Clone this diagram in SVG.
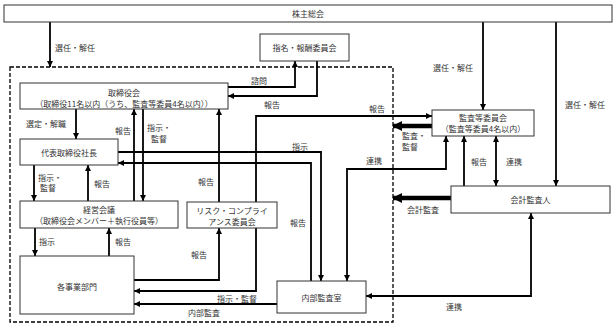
<svg xmlns="http://www.w3.org/2000/svg" width="615" height="329" viewBox="0 0 615 329">
<defs>
<style>
.box{fill:#fff;stroke:#333;stroke-width:1}
.t{font-family:"Noto Sans CJK JP","Noto Sans",sans-serif;font-size:8px;fill:#333;dominant-baseline:central}
.c{text-anchor:middle}
.ln{fill:none;stroke:#000;stroke-width:1.8}
.a{marker-end:url(#ah)}
.b{marker-start:url(#ahs);marker-end:url(#ah)}
.thick{fill:none;stroke:#000;stroke-width:4.5;marker-end:url(#th)}
.dash{fill:none;stroke:#000;stroke-width:1.3;stroke-dasharray:4 2}
</style>
<marker id="ah" markerUnits="userSpaceOnUse" markerWidth="6" markerHeight="6" refX="6" refY="3" orient="auto"><path d="M0,0 L6,3 L0,6 z" fill="#000"/></marker>
<marker id="ahs" markerUnits="userSpaceOnUse" markerWidth="6" markerHeight="6" refX="0" refY="3" orient="auto"><path d="M6,0 L0,3 L6,6 z" fill="#000"/></marker>
<marker id="th" markerUnits="userSpaceOnUse" markerWidth="10" markerHeight="10" refX="9" refY="5" orient="auto"><path d="M0,0 L10,5 L0,10 z" fill="#000"/></marker>
</defs>
<rect width="615" height="329" fill="#fff"/>
<rect class="dash" x="10" y="67" width="383" height="255"/>
<g id="connectors">
<path class="ln a" d="M50,22 V67"/>
<path class="ln a" d="M483,22 V110"/>
<path class="ln a" d="M556,22 V186"/>
<path class="ln a" d="M228,87 H295 V61"/>
<path class="ln a" d="M317,61 V96 H228"/>
<path class="ln a" d="M76,109 V139"/>
<path class="ln a" d="M134,201 V109"/>
<path class="ln a" d="M143,109 V201"/>
<path class="ln a" d="M34,165 V201"/>
<path class="ln a" d="M88,201 V165"/>
<path class="ln a" d="M35,228 V256"/>
<path class="ln a" d="M109,256 V228"/>
<path class="ln a" d="M134,280 H219 V228"/>
<path class="ln a" d="M256,228 V291 H134"/>
<path class="ln a" d="M277,304 H134"/>
<path class="ln a" d="M219,202 V109"/>
<path class="ln a" d="M256,202 V116 H432"/>
<path class="ln a" d="M118,152 H321 V281"/>
<path class="ln a" d="M311,281 V163 H118"/>
<path class="ln b" d="M347,281 V169 H446 V136"/>
<path class="ln a" d="M464,186 V136"/>
<path class="ln b" d="M496,136 V186"/>
<path class="ln b" d="M531,213 V296 H366"/>
<path class="thick" d="M432,126 H393"/>
<path class="thick" d="M451,198 H393"/>
</g>
<g id="labels">
<text class="t" x="55" y="47">選任・解任</text>
<text class="t c" x="453" y="67">選任・解任</text>
<text class="t c" x="585" y="104">選任・解任</text>
<text class="t c" x="259" y="80">諮問</text>
<text class="t c" x="272" y="104">報告</text>
<text class="t" x="26" y="123">選定・解職</text>
<text class="t c" x="123" y="130">報告</text>
<text class="t" x="147" y="127">指示・</text>
<text class="t" x="151" y="138">監督</text>
<text class="t c" x="206" y="181">報告</text>
<text class="t c" x="377" y="108">報告</text>
<text class="t" x="402" y="135">監査・</text>
<text class="t" x="402" y="146">監督</text>
<text class="t c" x="300" y="146">指示</text>
<text class="t c" x="374" y="160">連携</text>
<text class="t c" x="479" y="161">報告</text>
<text class="t c" x="514" y="161">連携</text>
<text class="t" x="38" y="177">指示・</text>
<text class="t" x="40" y="187">監督</text>
<text class="t c" x="102" y="183">報告</text>
<text class="t c" x="298" y="222">報告</text>
<text class="t c" x="423" y="209">会計監査</text>
<text class="t" x="39" y="241">指示</text>
<text class="t" x="115" y="241">報告</text>
<text class="t c" x="199" y="254">報告</text>
<text class="t c" x="237" y="298">指示・監督</text>
<text class="t c" x="204" y="312">内部監査</text>
<text class="t c" x="454" y="306">連携</text>
</g>
<g id="kabunushi"><rect class="box" x="4" y="5" width="608" height="17"/><text class="t c" x="308" y="13.5">株主総会</text></g>
<g id="shimei"><rect class="box" x="260" y="34" width="89" height="27"/><text class="t c" x="304.5" y="47.5">指名・報酬委員会</text></g>
<g id="torishimariyakukai"><rect class="box" x="20" y="83" width="208" height="26"/><text class="t c" x="124" y="92">取締役会</text><text class="t c" x="124" y="103">（取締役11名以内（うち、監査等委員4名以内））</text></g>
<g id="daihyo"><rect class="box" x="20" y="139" width="98" height="26"/><text class="t c" x="69" y="152">代表取締役社長</text></g>
<g id="keiei"><rect class="box" x="20" y="201" width="158" height="27"/><text class="t c" x="99" y="209">経営会議</text><text class="t c" x="99" y="220">（取締役会メンバー＋執行役員等）</text></g>
<g id="jigyo"><rect class="box" x="20" y="256" width="114" height="58"/><text class="t c" x="77" y="286">各事業部門</text></g>
<g id="risk"><rect class="box" x="187" y="202" width="90" height="26"/><text class="t c" x="232" y="210">リスク・コンプライ</text><text class="t c" x="232" y="221">アンス委員会</text></g>
<g id="naibu"><rect class="box" x="277" y="281" width="89" height="32"/><text class="t c" x="321.5" y="297">内部監査室</text></g>
<g id="kansatou"><rect class="box" x="432" y="110" width="102" height="26"/><text class="t c" x="483" y="117.5">監査等委員会</text><text class="t c" x="483" y="128">（監査等委員4名以内）</text></g>
<g id="kaikei"><rect class="box" x="451" y="186" width="159" height="27"/><text class="t c" x="530.5" y="199.5">会計監査人</text></g>
</svg>
